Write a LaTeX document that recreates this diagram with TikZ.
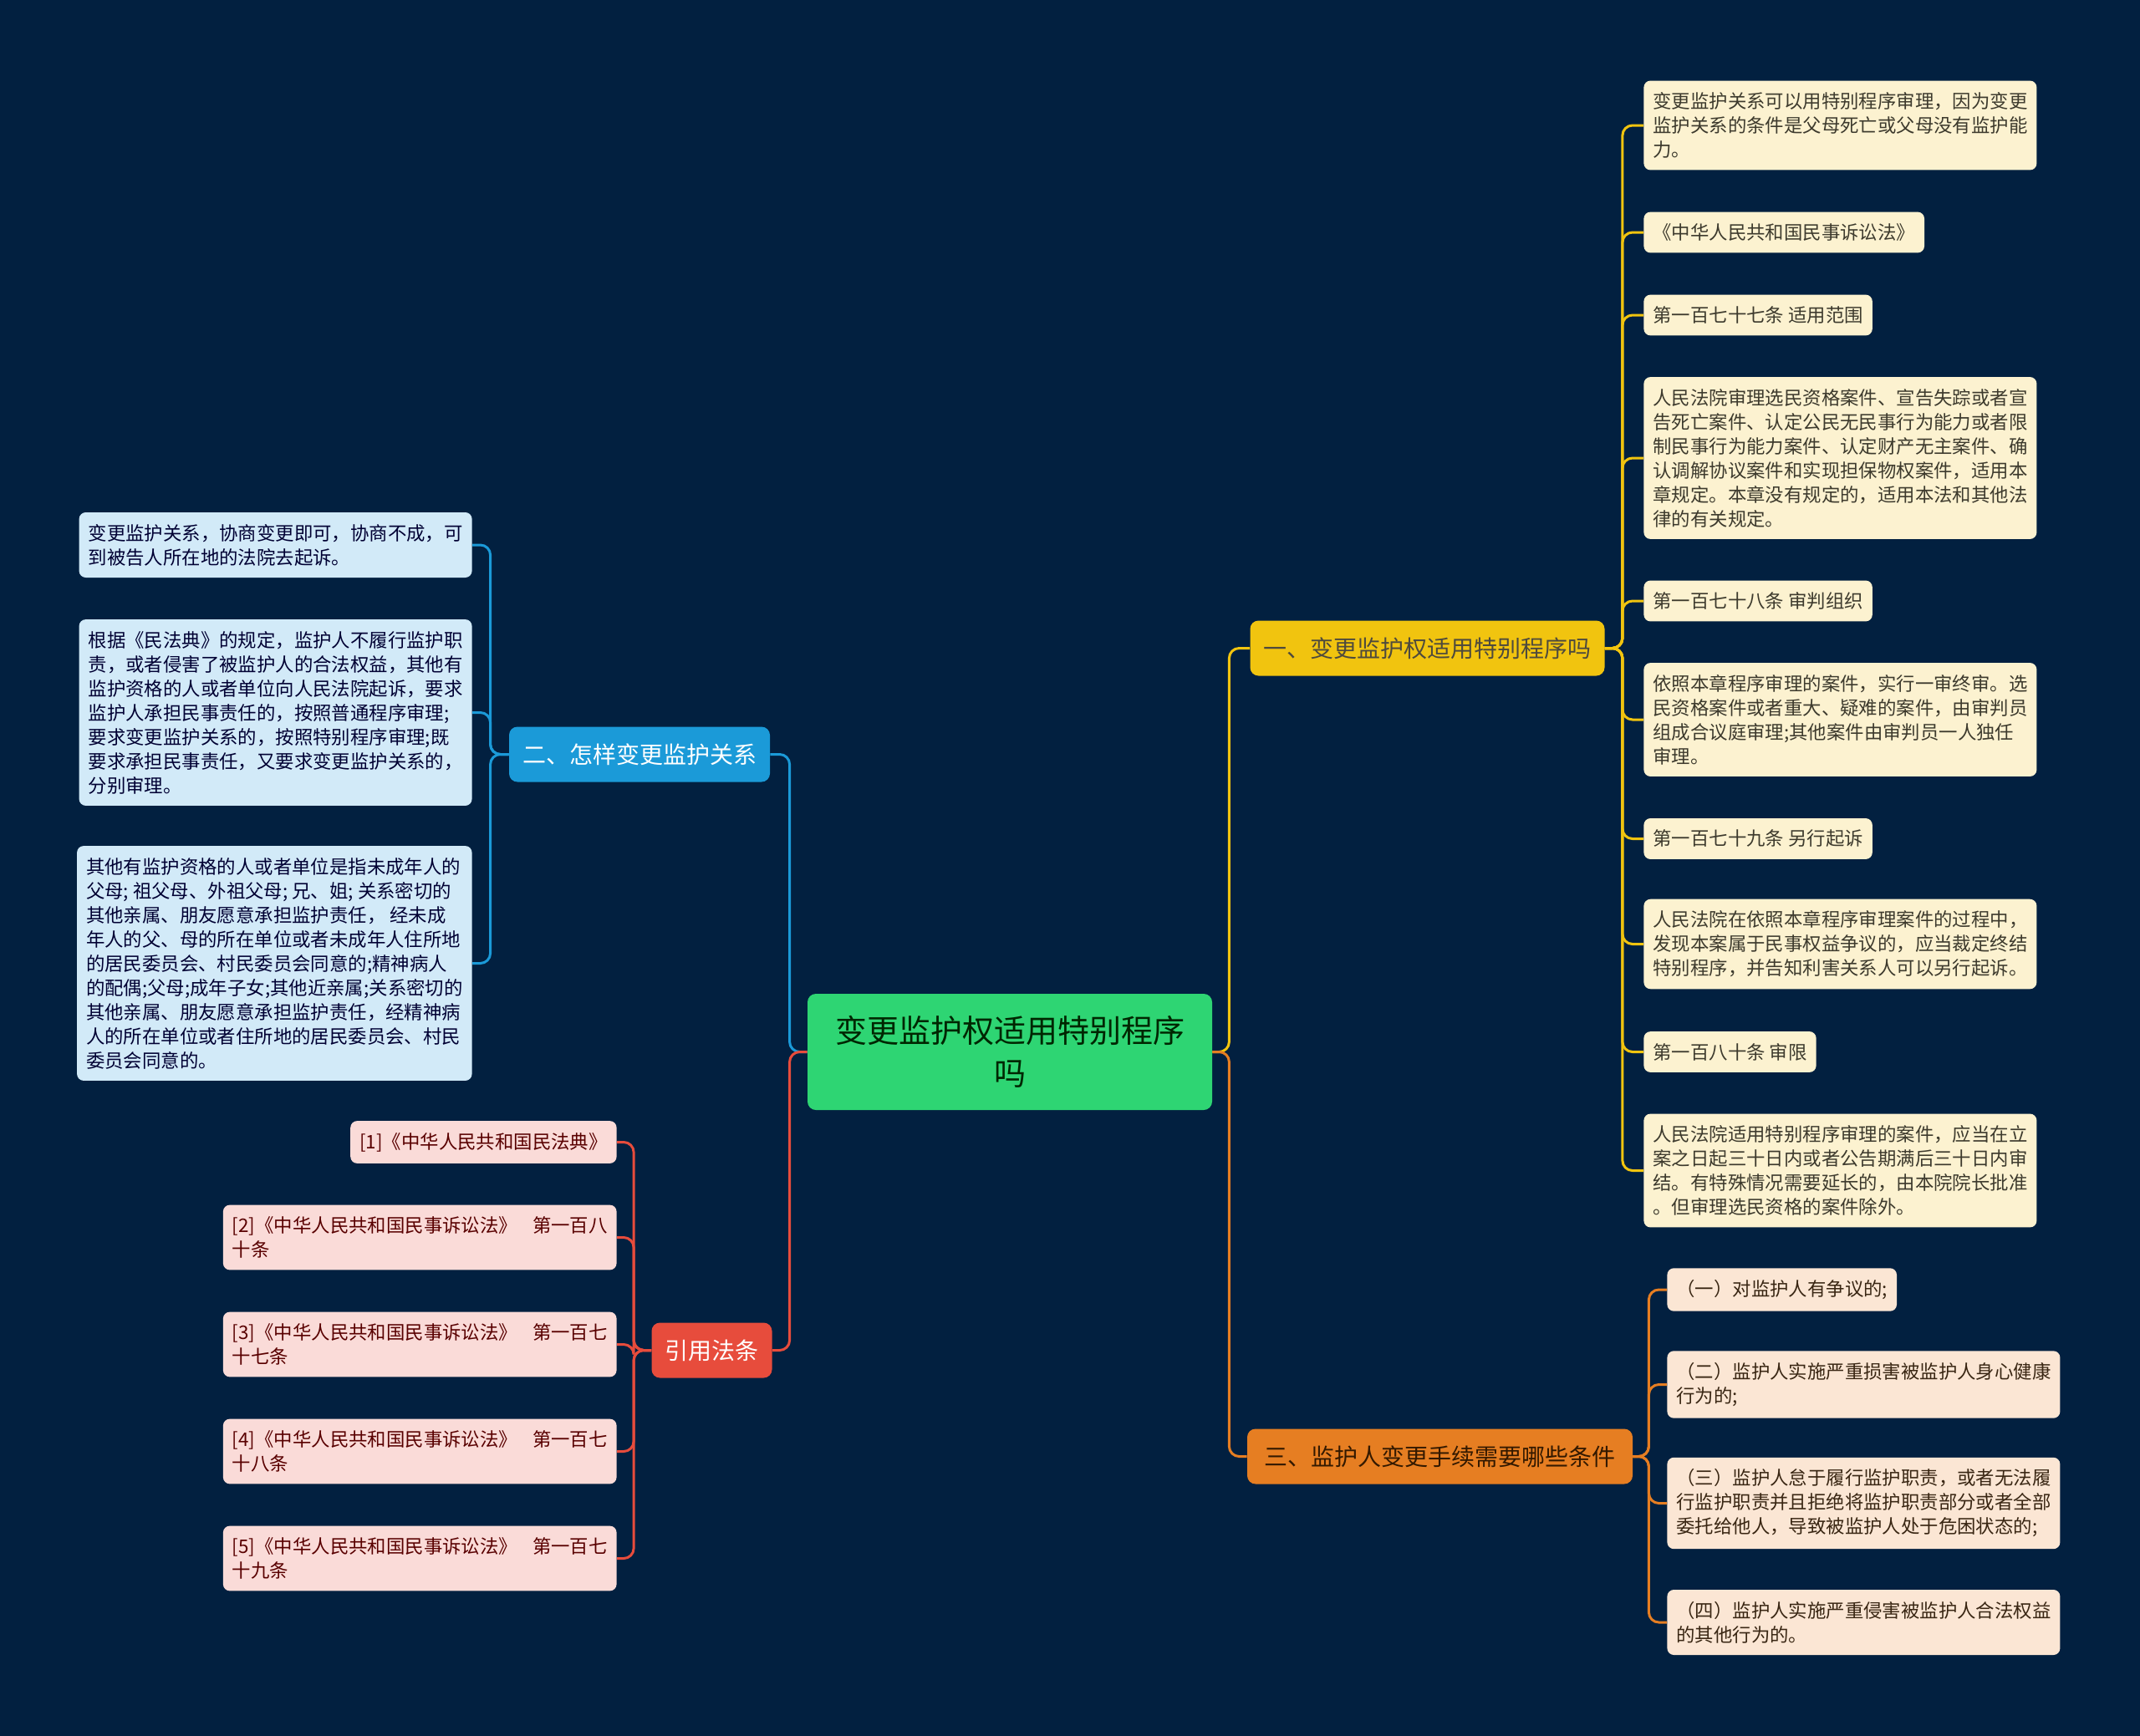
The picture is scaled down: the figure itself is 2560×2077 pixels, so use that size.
\documentclass[tikz,border=0pt]{standalone}
\usepackage{fontspec}
\setmainfont{Noto Sans CJK SC}
\definecolor{bgnavy}{HTML}{022040}
\definecolor{rootgreen}{HTML}{2ED573}
\definecolor{topyellow}{HTML}{F1C40F}
\definecolor{topblue}{HTML}{1B9AD8}
\definecolor{topred}{HTML}{E74C3C}
\definecolor{toporange}{HTML}{E67E22}
\definecolor{leafyellow}{HTML}{FCF2D0}
\definecolor{leaforange}{HTML}{FBE6D4}
\definecolor{leafblue}{HTML}{D2EAF8}
\definecolor{leafred}{HTML}{FADBD8}
\tikzset{
  root/.style={
    fill=rootgreen,
    text=black!85!green,
    rounded corners=5pt,
    align=center,
    minimum width=242pt,
    minimum height=69.5pt,
    inner sep=0pt,
    font=\fontsize{19}{25.5}\selectfont,
  },
  topic/.style={
    rounded corners=5pt,
    inner xsep=8pt,
    minimum height=33pt,
    font=\fontsize{14}{17}\selectfont,
  },
  leaf/.style={
    rounded corners=4pt,
    align=left,
    inner xsep=5.5pt,
    inner ysep=7pt,
    font=\fontsize{11.2}{14.5}\selectfont,
  },
  leafy/.style={leaf, anchor=west, fill=leafyellow, text=black!75!olive},
  leafo/.style={leaf, anchor=west, fill=leaforange, text=black!70!brown},
  leafb/.style={leaf, anchor=east, fill=leafblue, text=black!80!blue},
  leafr/.style={leaf, anchor=east, fill=leafred, text=black!65!red},
  link/.style={line width=1.5pt, rounded corners=6pt},
}
\newcommand{\gap}{\hspace{0.8em}}

\begin{document}
\begin{tikzpicture}[x=0.5pt, y=-0.5pt]
  \fill[bgnavy] (0, 0) rectangle (2560, 2077);
  \useasboundingbox (0, 0) rectangle (2560, 2077);

  % centre and main topics
  \node[root] (root) at (1208, 1258.5) {变更监护权适用特别程序\\吗};
  \node[topic, fill=topyellow, text=black!80!yellow] (one) at (1707.5, 775.5) {一、变更监护权适用特别程序吗};
  \node[topic, fill=topblue, text=white] (two) at (765, 902.5) {二、怎样变更监护关系};
  \node[topic, fill=topred, text=white] (refs) at (851.5, 1615.5) {引用法条};
  \node[topic, fill=toporange, text=black!80!orange, minimum width=230.5pt] (three) at (1722.5, 1742.5) {三、监护人变更手续需要哪些条件};

  % branch one
  \node[leafy] (y1) at (1966, 150) {变更监护关系可以用特别程序审理，因为变更\\监护关系的条件是父母死亡或父母没有监护能\\力。};
  \node[leafy] (y2) at (1966, 278) {《中华人民共和国民事诉讼法》};
  \node[leafy] (y3) at (1966, 377) {第一百七十七条 适用范围};
  \node[leafy] (y4) at (1966, 548) {人民法院审理选民资格案件、宣告失踪或者宣\\告死亡案件、认定公民无民事行为能力或者限\\制民事行为能力案件、认定财产无主案件、确\\认调解协议案件和实现担保物权案件，适用本\\章规定。本章没有规定的，适用本法和其他法\\律的有关规定。};
  \node[leafy] (y5) at (1966, 719) {第一百七十八条 审判组织};
  \node[leafy] (y6) at (1966, 861) {依照本章程序审理的案件，实行一审终审。选\\民资格案件或者重大、疑难的案件，由审判员\\组成合议庭审理;其他案件由审判员一人独任\\审理。};
  \node[leafy] (y7) at (1966, 1003.5) {第一百七十九条 另行起诉};
  \node[leafy] (y8) at (1966, 1129.5) {人民法院在依照本章程序审理案件的过程中，\\发现本案属于民事权益争议的，应当裁定终结\\特别程序，并告知利害关系人可以另行起诉。};
  \node[leafy] (y9) at (1966, 1258.5) {第一百八十条 审限};
  \node[leafy] (y10) at (1966, 1400.5) {人民法院适用特别程序审理的案件，应当在立\\案之日起三十日内或者公告期满后三十日内审\\结。有特殊情况需要延长的，由本院院长批准\\。但审理选民资格的案件除外。};

  % branch three
  \node[leafo] (o1) at (1994, 1543) {（一）对监护人有争议的;};
  \node[leafo] (o2) at (1994, 1656.5) {（二）监护人实施严重损害被监护人身心健康\\行为的;};
  \node[leafo] (o3) at (1994, 1798.5) {（三）监护人怠于履行监护职责，或者无法履\\行监护职责并且拒绝将监护职责部分或者全部\\委托给他人，导致被监护人处于危困状态的;};
  \node[leafo] (o4) at (1994, 1941) {（四）监护人实施严重侵害被监护人合法权益\\的其他行为的。};

  % branch two
  \node[leafb] (b1) at (565, 652) {变更监护关系，协商变更即可，协商不成，可\\到被告人所在地的法院去起诉。};
  \node[leafb] (b2) at (565, 852.5) {根据《民法典》的规定，监护人不履行监护职\\责，或者侵害了被监护人的合法权益，其他有\\监护资格的人或者单位向人民法院起诉，要求\\监护人承担民事责任的，按照普通程序审理;\\要求变更监护关系的，按照特别程序审理;既\\要求承担民事责任，又要求变更监护关系的，\\分别审理。};
  \node[leafb] (b3) at (565, 1152.5) {其他有监护资格的人或者单位是指未成年人的\\父母; 祖父母、外祖父母; 兄、姐; 关系密切的\\其他亲属、朋友愿意承担监护责任， 经未成\\年人的父、母的所在单位或者未成年人住所地\\的居民委员会、村民委员会同意的;精神病人\\的配偶;父母;成年子女;其他近亲属;关系密切的\\其他亲属、朋友愿意承担监护责任，经精神病\\人的所在单位或者住所地的居民委员会、村民\\委员会同意的。};

  % references
  \node[leafr] (r1) at (738, 1366.5) {[1]《中华人民共和国民法典》};
  \node[leafr] (r2) at (738, 1480.5) {[2]《中华人民共和国民事诉讼法》\gap 第一百八\\十条};
  \node[leafr] (r3) at (738, 1608.5) {[3]《中华人民共和国民事诉讼法》\gap 第一百七\\十七条};
  \node[leafr] (r4) at (738, 1736.5) {[4]《中华人民共和国民事诉讼法》\gap 第一百七\\十八条};
  \node[leafr] (r5) at (738, 1864.5) {[5]《中华人民共和国民事诉讼法》\gap 第一百七\\十九条};

  % connectors
  \draw[link, topyellow] (root.east) -- ++(20, 0) |- (one.west);
  \draw[link, toporange] (root.east) -- ++(20, 0) |- (three.west);
  \draw[link, topblue] (root.west) -- ++(-21, 0) |- (two.east);
  \draw[link, topred] (root.west) -- ++(-21, 0) |- (refs.east);

  \foreach \leaf in {y1, y2, y3, y4, y5, y6, y7, y8, y9, y10}
    \draw[link, topyellow] (one.east) -- ++(21, 0) |- (\leaf.west);
  \foreach \leaf in {o1, o2, o3, o4}
    \draw[link, toporange] (three.east) -- ++(19, 0) |- (\leaf.west);
  \foreach \leaf in {b1, b2, b3}
    \draw[link, topblue] (two.west) -- ++(-22, 0) |- (\leaf.east);
  \foreach \leaf in {r1, r2, r3, r4, r5}
    \draw[link, topred] (refs.west) -- ++(-21, 0) |- (\leaf.east);

\end{tikzpicture}
\end{document}
